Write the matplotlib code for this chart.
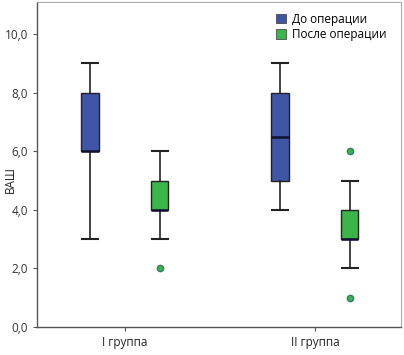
import matplotlib
matplotlib.use("Agg")
import matplotlib.pyplot as plt
from matplotlib.patches import Patch

groups = ["I группа", "II группа"]
series = ["До операции", "После операции"]
colors = ["#3F55A6", "#3BB54A"]

# box statistics per group: [before, after]
whislo = [[3, 3], [4, 2]]
q1 = [[6, 4], [5, 3]]
med = [[6, 4], [6.5, 3]]
q3 = [[8, 5], [8, 4]]
whishi = [[9, 6], [9, 5]]
fliers = [[[], [2]], [[], [1, 6]]]

yticks = [0, 2, 4, 6, 8, 10]

plt.rcParams['font.family'] = ['Open Sans', 'DejaVu Sans']
fig = plt.figure(figsize=(4.04, 3.55), dpi=100)
ax = fig.add_axes([37/404, 28/355, 364/404, 325/355])

offset = 0.184
width = 0.09
for gi, g in enumerate(groups):
    for si in range(2):
        pos = gi + 1 + (-offset if si == 0 else offset)
        st = [dict(med=med[gi][si], q1=q1[gi][si], q3=q3[gi][si],
                   whislo=whislo[gi][si], whishi=whishi[gi][si],
                   fliers=fliers[gi][si])]
        ax.bxp(st, positions=[pos], widths=width, patch_artist=True,
               showfliers=True,
               boxprops=dict(facecolor=colors[si], edgecolor="#222222", linewidth=1.0),
               medianprops=dict(color="#111133", linewidth=1.8),
               whiskerprops=dict(color="#222222", linewidth=1.2),
               capprops=dict(color="#222222", linewidth=1.5),
               capwidths=width * 0.9,
               flierprops=dict(marker="o", markersize=4.5, markerfacecolor=colors[si],
                               markeredgecolor="#2e7d6a", markeredgewidth=1.0))

ax.set_xlim(0.537, 2.453)
ax.set_ylim(0, 11.1)
ax.set_xticks([1, 2])
ax.set_xticklabels(groups, fontsize=8.5, color="#222222")
ax.set_yticks(yticks)
ax.set_yticklabels([f"{v:.1f}".replace(".", ",") for v in yticks], fontsize=8.5, color="#333333")
fig.text(10/404, 1 - 180/355, "ВАШ", rotation=90, fontsize=8.5, color="#222222",
         ha="center", va="center")
ax.tick_params(axis="both", length=3, color="#555555", width=0.8)

for s in ["left", "bottom"]:
    ax.spines[s].set_color("#555555")
    ax.spines[s].set_linewidth(1.0)
for s in ["top", "right"]:
    ax.spines[s].set_color("#aaaaaa")
    ax.spines[s].set_linewidth(0.8)

handles = [Patch(facecolor=c, edgecolor="#333333", linewidth=0.5) for c in colors]
ax.legend(handles, series, loc="upper right", frameon=False, fontsize=8.5,
          handlelength=0.9, handleheight=0.9, handletextpad=0.5, labelspacing=0.2,
          bbox_to_anchor=(0.99, 1.0))

fig.savefig("out.png", dpi=100)
